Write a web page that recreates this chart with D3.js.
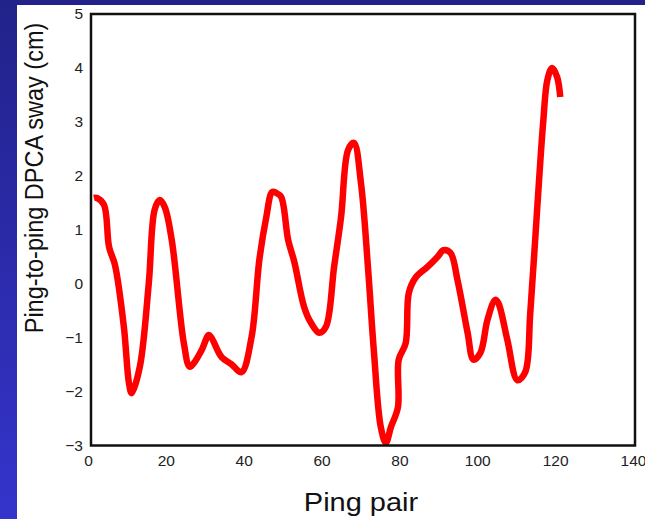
<!DOCTYPE html>
<html>
<head>
<meta charset="utf-8">
<script src="https://cdn.jsdelivr.net/npm/d3@7"></script>
<style>
	body { margin: 0; overflow: hidden; }
	svg { display: block; }
</style>
</head>
<body>
<svg id="svg_main" width="645" height="519"></svg>
<script>
// values
var pingPair = [1, 1.8, 3.6, 4.9, 6.4, 8.7, 10.0, 10.7, 12.8, 15.1, 16.6, 17.9, 19.2, 21.0, 24.1, 25.6, 26.9, 28.7, 30.5, 31.2,
	33.8, 36.3, 38.9, 41.5, 43.5, 45.3, 46.8, 47.9, 49.1, 50.9, 52.5, 55.0, 56.8, 58.9, 60.6, 62.7, 64.5, 66.3, 67.8, 69.6,
	71.4, 72.9, 74.7, 76.0, 77.3, 79.1, 79.3, 81.1, 81.9, 83.7, 86.7, 89.3, 90.8, 92.6, 94.4, 97.0, 98.5, 100.3, 102.1, 104.1,
	104.9, 107.2, 109.8, 111.8, 113.1, 114.9, 116.4, 117.5, 118.7, 120.0, 120.8];
var sway = [1.59, 1.59, 1.46, 0.68, 0.35, -0.80, -1.84, -2.03, -1.54, 0.01, 1.37, 1.55, 1.42, 0.81, -1.10, -1.54, -1.45, -1.23, -0.95, -1.0,
	-1.36, -1.49, -1.64, -0.99, 0.44, 1.24, 1.70, 1.68, 1.61, 0.81, 0.40, -0.43, -0.73, -0.91, -0.80, 0.31, 1.24, 2.48, 2.61, 1.87,
	0.31, -1.23, -2.66, -2.95, -2.66, -2.29, -1.41, -1.10, -0.17, 0.12, 0.31, 0.50, 0.62, 0.57, 0.07, -0.91, -1.41, -1.28, -0.67, -0.30,
	-0.36, -1.04, -1.79, -1.64, -0.54, 1.42, 2.98, 3.78, 4.00, 3.83, 3.46];
var xTicks = [0, 20, 40, 60, 80, 100, 120, 140];
var yTicks = [-3, -2, -1, 0, 1, 2, 3, 4, 5];

var svg = d3.select("#svg_main");
var W = 645, H = 519;

// slide background
var defs = svg.append("defs");
var grad = defs.append("linearGradient")
	.attr("id", "side")
	.attr("x1", 0).attr("y1", 0)
	.attr("x2", 0).attr("y2", 1);
grad.append("stop").attr("offset", "0%").attr("stop-color", "#22228a");
grad.append("stop").attr("offset", "100%").attr("stop-color", "#3434cc");

svg.append("rect")
	.attr("width", W)
	.attr("height", H)
	.attr("fill", "url(#side)");
svg.append("rect")
	.attr("width", W)
	.attr("height", 5)
	.attr("fill", "#22228a");
svg.append("rect")
	.attr("x", 17)
	.attr("y", 5)
	.attr("width", W - 17)
	.attr("height", H - 5)
	.attr("fill", "#ffffff");

var x = d3.scaleLinear().domain([0, 140]).range([90, 635]),
	y = d3.scaleLinear().domain([-3, 5]).range([445.5, 14]);

var data = pingPair.map((d, i) => { return { x: d, v: sway[i] }; });

var xAxis = d3.axisBottom(x).tickValues(xTicks).tickSize(0).tickPadding(9),
	yAxis = d3.axisLeft(y).tickValues(yTicks).tickSize(0).tickPadding(7);

svg.append("g")
	.attr("class", "xAxis")
	.attr("transform", `translate(-2, ${y(-3)})`)
	.call(xAxis);
svg.append("g")
	.attr("class", "yAxis")
	.attr("transform", `translate(${x(0)}, 0)`)
	.call(yAxis);

svg.selectAll(".domain").remove();
svg.selectAll(".tick text")
	.attr("font-family", "'Liberation Sans', Arial, sans-serif")
	.attr("font-size", "15.5px")
	.attr("fill", "#222222");

var line = d3.line()
	.x(d => x(d.x))
	.y(d => y(d.v))
	.curve(d3.curveCatmullRom.alpha(0.5));

svg.append("path")
	.datum(data)
	.attr("d", line)
	.attr("fill", "none")
	.attr("stroke", "#ff0000")
	.attr("stroke-width", 6.5)
	.attr("stroke-linejoin", "round")
	.attr("stroke-linecap", "butt");

// frame
svg.append("rect")
	.attr("x", x(0) + 1)
	.attr("y", y(5))
	.attr("width", x(140) - x(0) - 1)
	.attr("height", y(-3) - y(5))
	.attr("fill", "none")
	.attr("stroke", "#111111")
	.attr("stroke-width", 2.5);

var labels = svg.append("g")
	.attr("class", "labels")
	.attr("font-family", "'Liberation Sans', Arial, sans-serif")
	.attr("fill", "#111111");
labels.append("text")
	.attr("transform", "translate(361, 511) scale(1.16, 1)")
	.attr("text-anchor", "middle")
	.attr("font-size", "25px")
	.text("Ping pair");
labels.append("text")
	.attr("transform", "translate(43, 178) scale(1.08, 1) rotate(-90)")
	.attr("text-anchor", "middle")
	.attr("font-size", "23.5px")
	.text("Ping-to-ping DPCA sway (cm)");
</script>
</body>
</html>
